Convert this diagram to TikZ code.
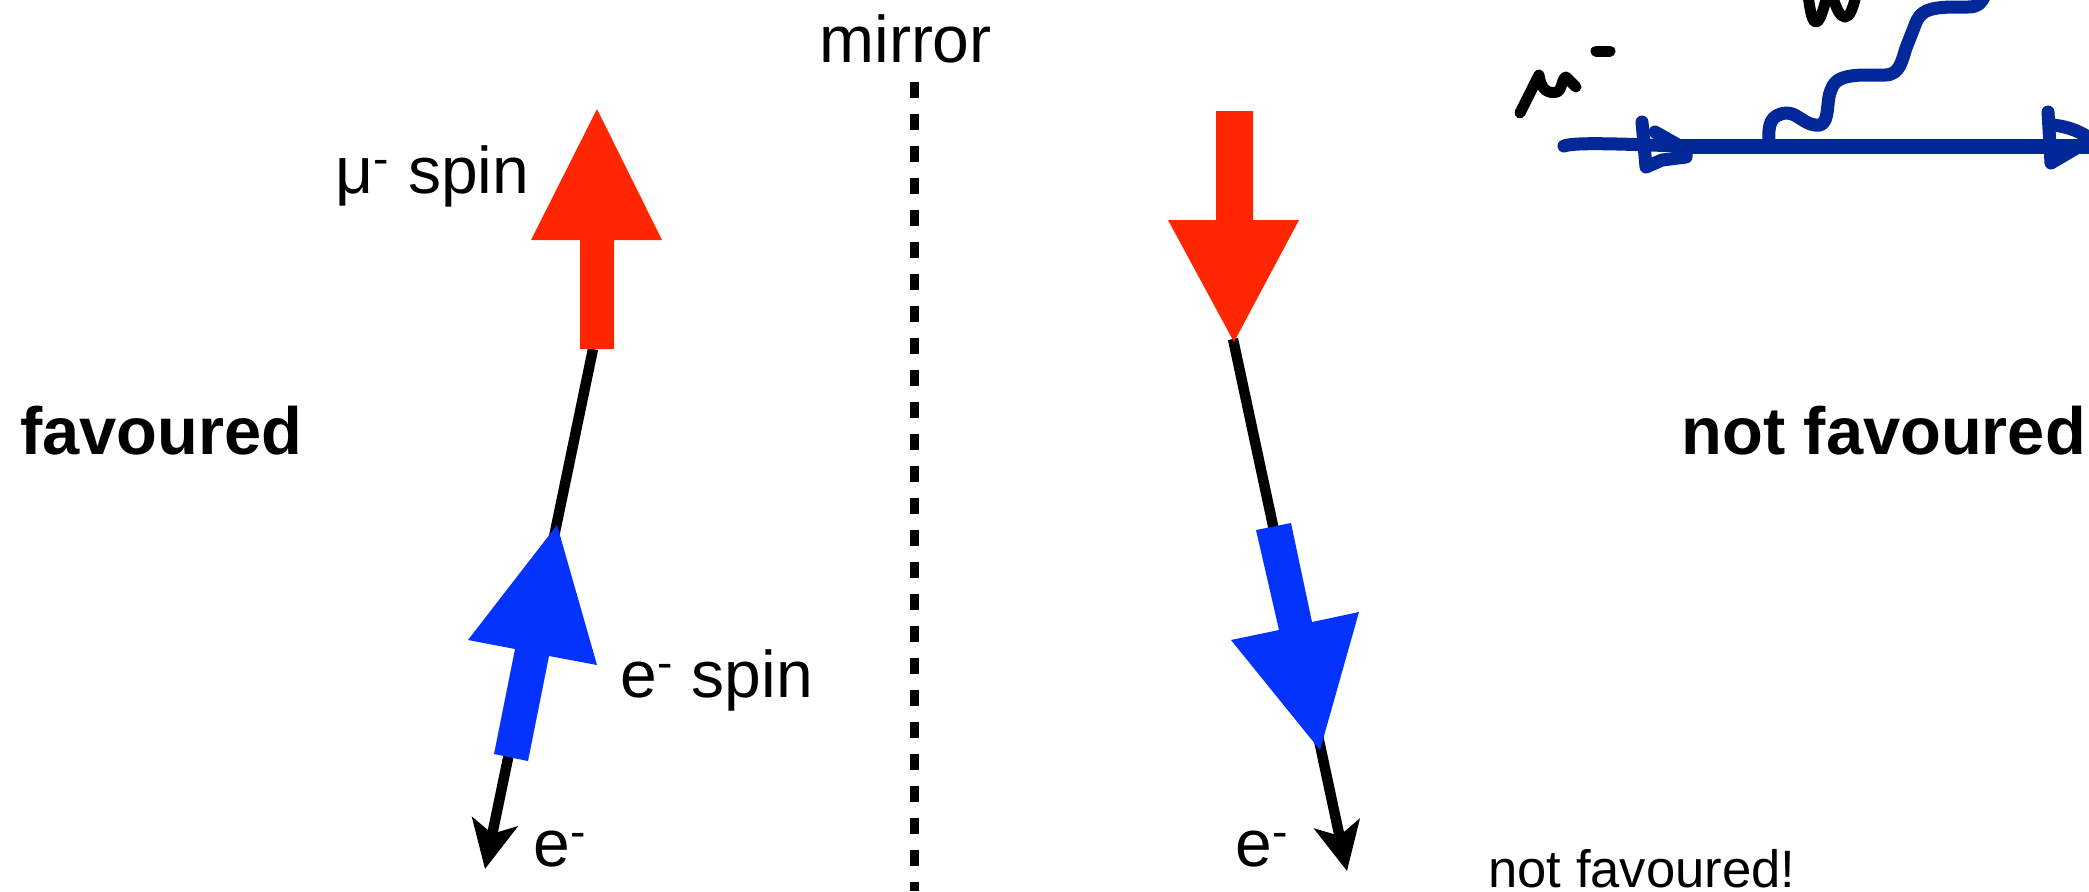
\documentclass[tikz,border=0pt]{standalone}
\usepackage{fontspec}
\setmainfont{Liberation Sans}
\usepackage{tikz}
\usetikzlibrary{arrows.meta}
\definecolor{spinred}{RGB}{255,38,0}
\definecolor{spinblue}{RGB}{4,51,255}
\definecolor{inkblue}{RGB}{0,40,152}
\tikzset{
  trackarrow/.style={-{Stealth[length=24pt, width=23pt, inset=6pt]}, line width=5.2pt, black},
  mirrorline/.style={line width=4.5pt, dash pattern=on 8pt off 8pt, black},
  muonspin/.style={fill=spinred},
  elecspin/.style={fill=spinblue},
  bluepen/.style={draw=inkblue, line width=6.5pt, line cap=round, line join=round},
  blackpen/.style={draw=black, line width=5.5pt, line cap=round, line join=round},
  biglabel/.style={font=\fontsize{33}{36}\selectfont, anchor=base west, inner sep=0pt},
  boldlabel/.style={font=\fontsize{33.4}{36}\selectfont\bfseries, anchor=base west, inner sep=0pt},
  smalllabel/.style={font=\fontsize{26.3}{29}\selectfont, anchor=base west, inner sep=0pt}
}
\begin{document}
\begin{tikzpicture}[x=0.5pt, y=-0.5pt]
  \clip (0,0) rectangle (2089,891);
  % mirror
  \coordinate (mirrortop) at (914,82);
  \coordinate (mirrorbot) at (914,891);
  \draw[mirrorline] (mirrortop) -- (mirrorbot);
  \node[biglabel] (mirrorlabel) at (819,62) {mirror};
  % favoured side
  \coordinate (favmuon) at (593,349);
  \coordinate (favelec) at (485,869);
  \draw[trackarrow] (favmuon) -- (favelec);
  \fill[muonspin] (597,109) -- (662,240) -- (614,240) -- (614,349) -- (580,349) -- (580,240) -- (531,240) -- cycle;
  \fill[elecspin] (557,525) -- (597,665) -- (549,656) -- (528,761) -- (494,754) -- (515,649) -- (468,640) -- cycle;
  \node[biglabel] (muspin) at (335,193) {μ\textsuperscript{-} spin};
  \node[biglabel] (espin) at (620,697) {e\textsuperscript{-} spin};
  \node[biglabel] (efav) at (533,866) {e\textsuperscript{-}};
  \node[boldlabel] (favlabel) at (20,454) {favoured};
  % not favoured side
  \coordinate (notmuon) at (1233,339);
  \coordinate (notelec) at (1347,871);
  \draw[trackarrow] (notmuon) -- (notelec);
  \fill[muonspin] (1234,342) -- (1299,220) -- (1253,220) -- (1253,111) -- (1216,111) -- (1216,220) -- (1168,220) -- cycle;
  \fill[elecspin] (1320,750) -- (1359,612) -- (1312,622) -- (1291,523) -- (1256,530) -- (1279,630) -- (1231,640) -- cycle;
  \node[biglabel] (enot) at (1235,866) {e\textsuperscript{-}};
  \node[boldlabel] (notlabel) at (1681,454) {not favoured};
  \node[smalllabel] (notnote) at (1488,887) {not favoured!};
  % sketch
  \draw[bluepen] (1564,146) .. controls (1575,142) and (1620,144) .. (1680,146) -- (2095,146);
  \draw[bluepen, line width=7.5pt, line cap=butt] (1680,146) -- (2095,146);
  \draw[bluepen] (1642,122) -- (1646,167) -- (1662,160) -- (1686,157) -- (1686,148);
  \draw[bluepen] (1655,132) -- (1678,145);
  \draw[bluepen] (2048,112) -- (2051,163) -- (2095,137);
  \draw[bluepen] (2053,125) .. controls (2070,127) and (2082,132) .. (2095,142);
  \draw[bluepen] (1769,142) .. controls (1768,125) and (1770,114) .. (1787,113)
    .. controls (1798,113) and (1806,127) .. (1820,125)
    .. controls (1830,122) and (1826,100) .. (1831,90)
    .. controls (1835,78) and (1845,76) .. (1862,75)
    -- (1885,75) .. controls (1900,75) and (1902,60) .. (1906,48)
    -- (1915,25) .. controls (1920,10) and (1930,8) .. (1950,7)
    -- (1968,7) .. controls (1978,7) and (1981,3) .. (1984,-3);
  \draw[blackpen] (1808,-5) .. controls (1810,10) and (1812,22) .. (1816,22) .. controls (1820,22) and (1824,8) .. (1827,-5);
  \draw[blackpen] (1832,-5) .. controls (1836,8) and (1840,17) .. (1845,17) .. controls (1850,17) and (1853,8) .. (1856,-5);
  \draw[blackpen] (1520,113) -- (1539,75) .. controls (1541,90) and (1548,94) .. (1557,92) .. controls (1562,90) and (1562,78) .. (1566,77) -- (1576,87);
  \draw[blackpen] (1596,51) -- (1610,51);
\end{tikzpicture}
\end{document}
